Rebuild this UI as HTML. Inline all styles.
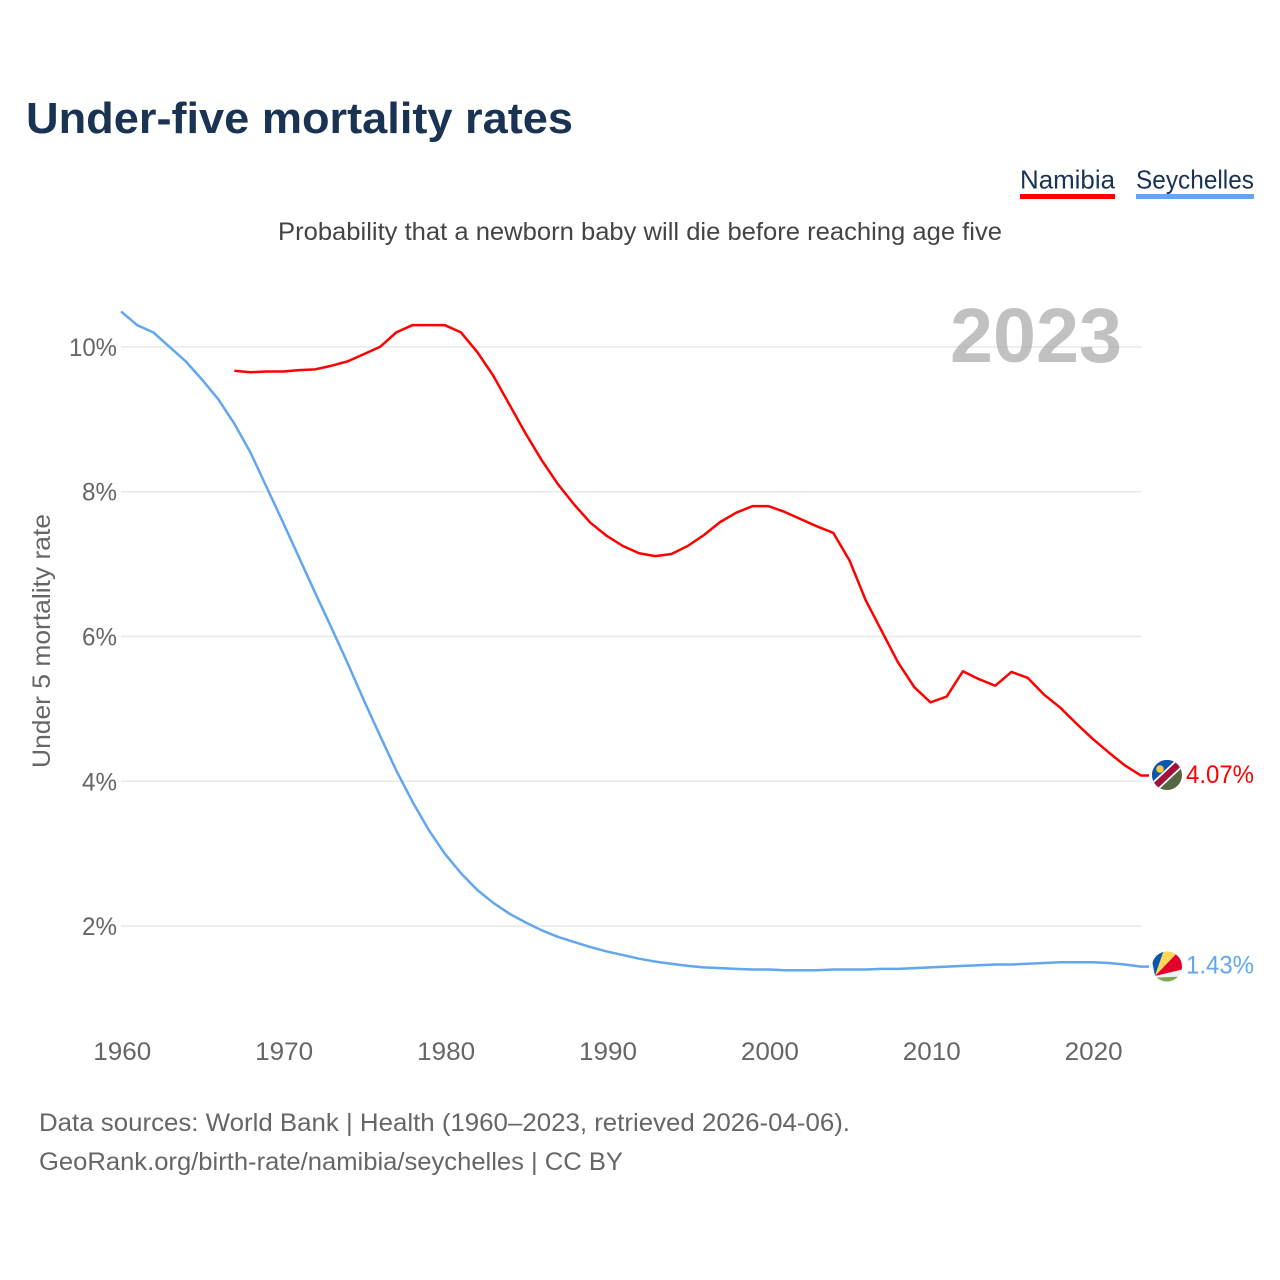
<!DOCTYPE html>
<html lang="en">
<head>
<meta charset="utf-8">
<title>Under-five mortality rates</title>
<style>
html,body{margin:0;padding:0;background:#fff}
#chart{display:block;width:1280px;height:1280px;font-family:"Liberation Sans",sans-serif}
</style>
</head>
<body>
<svg id="chart" xmlns="http://www.w3.org/2000/svg" width="1280" height="1280" viewBox="0 0 1280 1280">
  <defs>
    <clipPath id="clip-nam"><circle cx="1167" cy="775" r="15"/></clipPath>
    <clipPath id="clip-sey"><circle cx="1167" cy="966.5" r="15"/></clipPath>
  </defs>
  <rect width="1280" height="1280" fill="#fff"/>
  <text x="26" y="133" font-size="44" font-weight="700" fill="#1a3353" textLength="547" lengthAdjust="spacingAndGlyphs">Under-five mortality rates</text>
  <text x="1020" y="188.5" font-size="26" fill="#1a3353" textLength="95" lengthAdjust="spacingAndGlyphs">Namibia</text>
  <rect x="1020" y="194" width="95" height="5" fill="#ff0000"/>
  <text x="1136" y="188.5" font-size="26" fill="#1a3353" textLength="118" lengthAdjust="spacingAndGlyphs">Seychelles</text>
  <rect x="1136" y="194" width="118" height="5" fill="#62a6ee"/>
  <text x="278" y="240" font-size="25" fill="#444" textLength="724" lengthAdjust="spacingAndGlyphs">Probability that a newborn baby will die before reaching age five</text>
  <text x="0" y="0" transform="translate(50,641) rotate(-90)" text-anchor="middle" font-size="25" fill="#666" textLength="254" lengthAdjust="spacingAndGlyphs">Under 5 mortality rate</text>
  <g id="grid"></g>
  <g id="y-labels"></g>
  <g id="x-labels"></g>
  <text x="1122" y="362" text-anchor="end" font-size="77" font-weight="700" fill="#a6a6a6" fill-opacity="0.7" textLength="172" lengthAdjust="spacingAndGlyphs">2023</text>
  <g id="series"></g>
  <g clip-path="url(#clip-nam)">
    <rect x="1150" y="758" width="34" height="34" fill="#546642"/>
    <polygon points="1150,758 1184,758 1150,792" fill="#0b57b0"/>
    <line x1="1150" y1="791" x2="1184" y2="759" stroke="#fff" stroke-width="10"/>
    <line x1="1150" y1="791" x2="1184" y2="759" stroke="#a3123a" stroke-width="6.5"/>
    <circle cx="1160" cy="769" r="3.8" fill="#f9cb3c"/>
  </g>
  <g clip-path="url(#clip-sey)">
    <rect x="1150" y="950" width="34" height="34" fill="#f2f2f2"/>
    <polygon points="1155,976 1150,950 1164,950" fill="#0b57b0"/>
    <polygon points="1155,976 1164,950 1180,950" fill="#fcd856"/>
    <polygon points="1155,976 1180,950 1184,950 1184,969" fill="#e2002d"/>
    <polygon points="1157,977.5 1184,976.5 1184,984 1157,984" fill="#7aa755"/>
  </g>
  <g id="end-labels"></g>
  <text x="39" y="1131" font-size="25" fill="#666" textLength="811" lengthAdjust="spacingAndGlyphs">Data sources: World Bank | Health (1960–2023, retrieved 2026-04-06).</text>
  <text x="39" y="1170" font-size="25" fill="#666" textLength="584" lengthAdjust="spacingAndGlyphs">GeoRank.org/birth-rate/namibia/seychelles | CC BY</text>
</svg>
<script>
const yTicks = [2, 4, 6, 8, 10];
const xTicks = [1960, 1970, 1980, 1990, 2000, 2010, 2020];
const seychellesStart = 1960;
const seychellesValues = [10.49,10.3,10.2,10.0,9.8,9.55,9.28,8.94,8.54,8.06,7.58,7.09,6.6,6.12,5.63,5.12,4.63,4.15,3.72,3.33,3.0,2.73,2.5,2.32,2.17,2.05,1.94,1.85,1.78,1.71,1.65,1.6,1.55,1.51,1.48,1.45,1.43,1.42,1.41,1.4,1.4,1.39,1.39,1.39,1.4,1.4,1.4,1.41,1.41,1.42,1.43,1.44,1.45,1.46,1.47,1.47,1.48,1.49,1.5,1.5,1.5,1.49,1.47,1.44];
const namibiaStart = 1967;
const namibiaValues = [9.67,9.65,9.66,9.66,9.68,9.69,9.74,9.8,9.9,10.0,10.2,10.3,10.3,10.3,10.2,9.93,9.6,9.2,8.8,8.43,8.1,7.82,7.57,7.39,7.25,7.15,7.11,7.14,7.25,7.4,7.58,7.71,7.8,7.8,7.72,7.62,7.52,7.43,7.05,6.5,6.07,5.64,5.3,5.09,5.17,5.52,5.41,5.32,5.51,5.43,5.2,5.02,4.8,4.59,4.4,4.22,4.08];
const seychellesLabel = "1.43%";
const namibiaLabel = "4.07%";

const NS = "http://www.w3.org/2000/svg";
const xScale = year => 121 + (year - 1960) * 16.19;
const yScale = value => 1070.9 - value * 72.4;

function make(parent, tag, attrs, text) {
  const el = document.createElementNS(NS, tag);
  for (const k in attrs) el.setAttribute(k, attrs[k]);
  if (text !== undefined) el.textContent = text;
  parent.appendChild(el);
  return el;
}

const gridG = document.getElementById("grid");
const yLabelG = document.getElementById("y-labels");
yTicks.forEach(t => {
  const line = make(gridG, "line", {x1: xScale(1960), x2: xScale(2023) + 0.5, y1: yScale(t), y2: yScale(t), stroke: "#e8e8e8", "stroke-width": 1.5});
  
  
  const label = make(yLabelG, "text", {x: 117, y: yScale(t) + 9, "text-anchor": "end", "font-size": 25, fill: "#666", textLength: t === 10 ? 48 : 35, lengthAdjust: "spacingAndGlyphs"}, t + "%");
  
  
});

const xLabelG = document.getElementById("x-labels");
xTicks.forEach(t => {
  const label = make(xLabelG, "text", {x: xScale(t) + 1.3, y: 1060, "text-anchor": "middle", "font-size": 25, fill: "#666", textLength: 58, lengthAdjust: "spacingAndGlyphs"}, String(t));
  
  
});

function pathFor(start, values) {
  let d = values.map((v, i) => (i ? "L" : "M") + xScale(start + i).toFixed(2) + " " + yScale(v).toFixed(2)).join(" ");
  d += " L" + (xScale(start + values.length - 1) + 8).toFixed(2) + " " + yScale(values[values.length - 1]).toFixed(2);
  return d;
}

const seriesG = document.getElementById("series");
const seyLine = make(seriesG, "path", {d: pathFor(seychellesStart, seychellesValues), fill: "none", stroke: "#62a6ee", "stroke-width": 2.5, "stroke-linejoin": "round"});


const namLine = make(seriesG, "path", {d: pathFor(namibiaStart, namibiaValues), fill: "none", stroke: "#ff0000", "stroke-width": 2.5, "stroke-linejoin": "round"});



const endG = document.getElementById("end-labels");
const namEnd = make(endG, "text", {x: 1186, y: yScale(namibiaValues[namibiaValues.length - 1]) + 7.5, "font-size": 25, fill: "#ff0000", textLength: 68, lengthAdjust: "spacingAndGlyphs"}, namibiaLabel);


const seyEnd = make(endG, "text", {x: 1186, y: yScale(seychellesValues[seychellesValues.length - 1]) + 7, "font-size": 25, fill: "#62a6ee", textLength: 68, lengthAdjust: "spacingAndGlyphs"}, seychellesLabel);


</script>
</body>
</html>
